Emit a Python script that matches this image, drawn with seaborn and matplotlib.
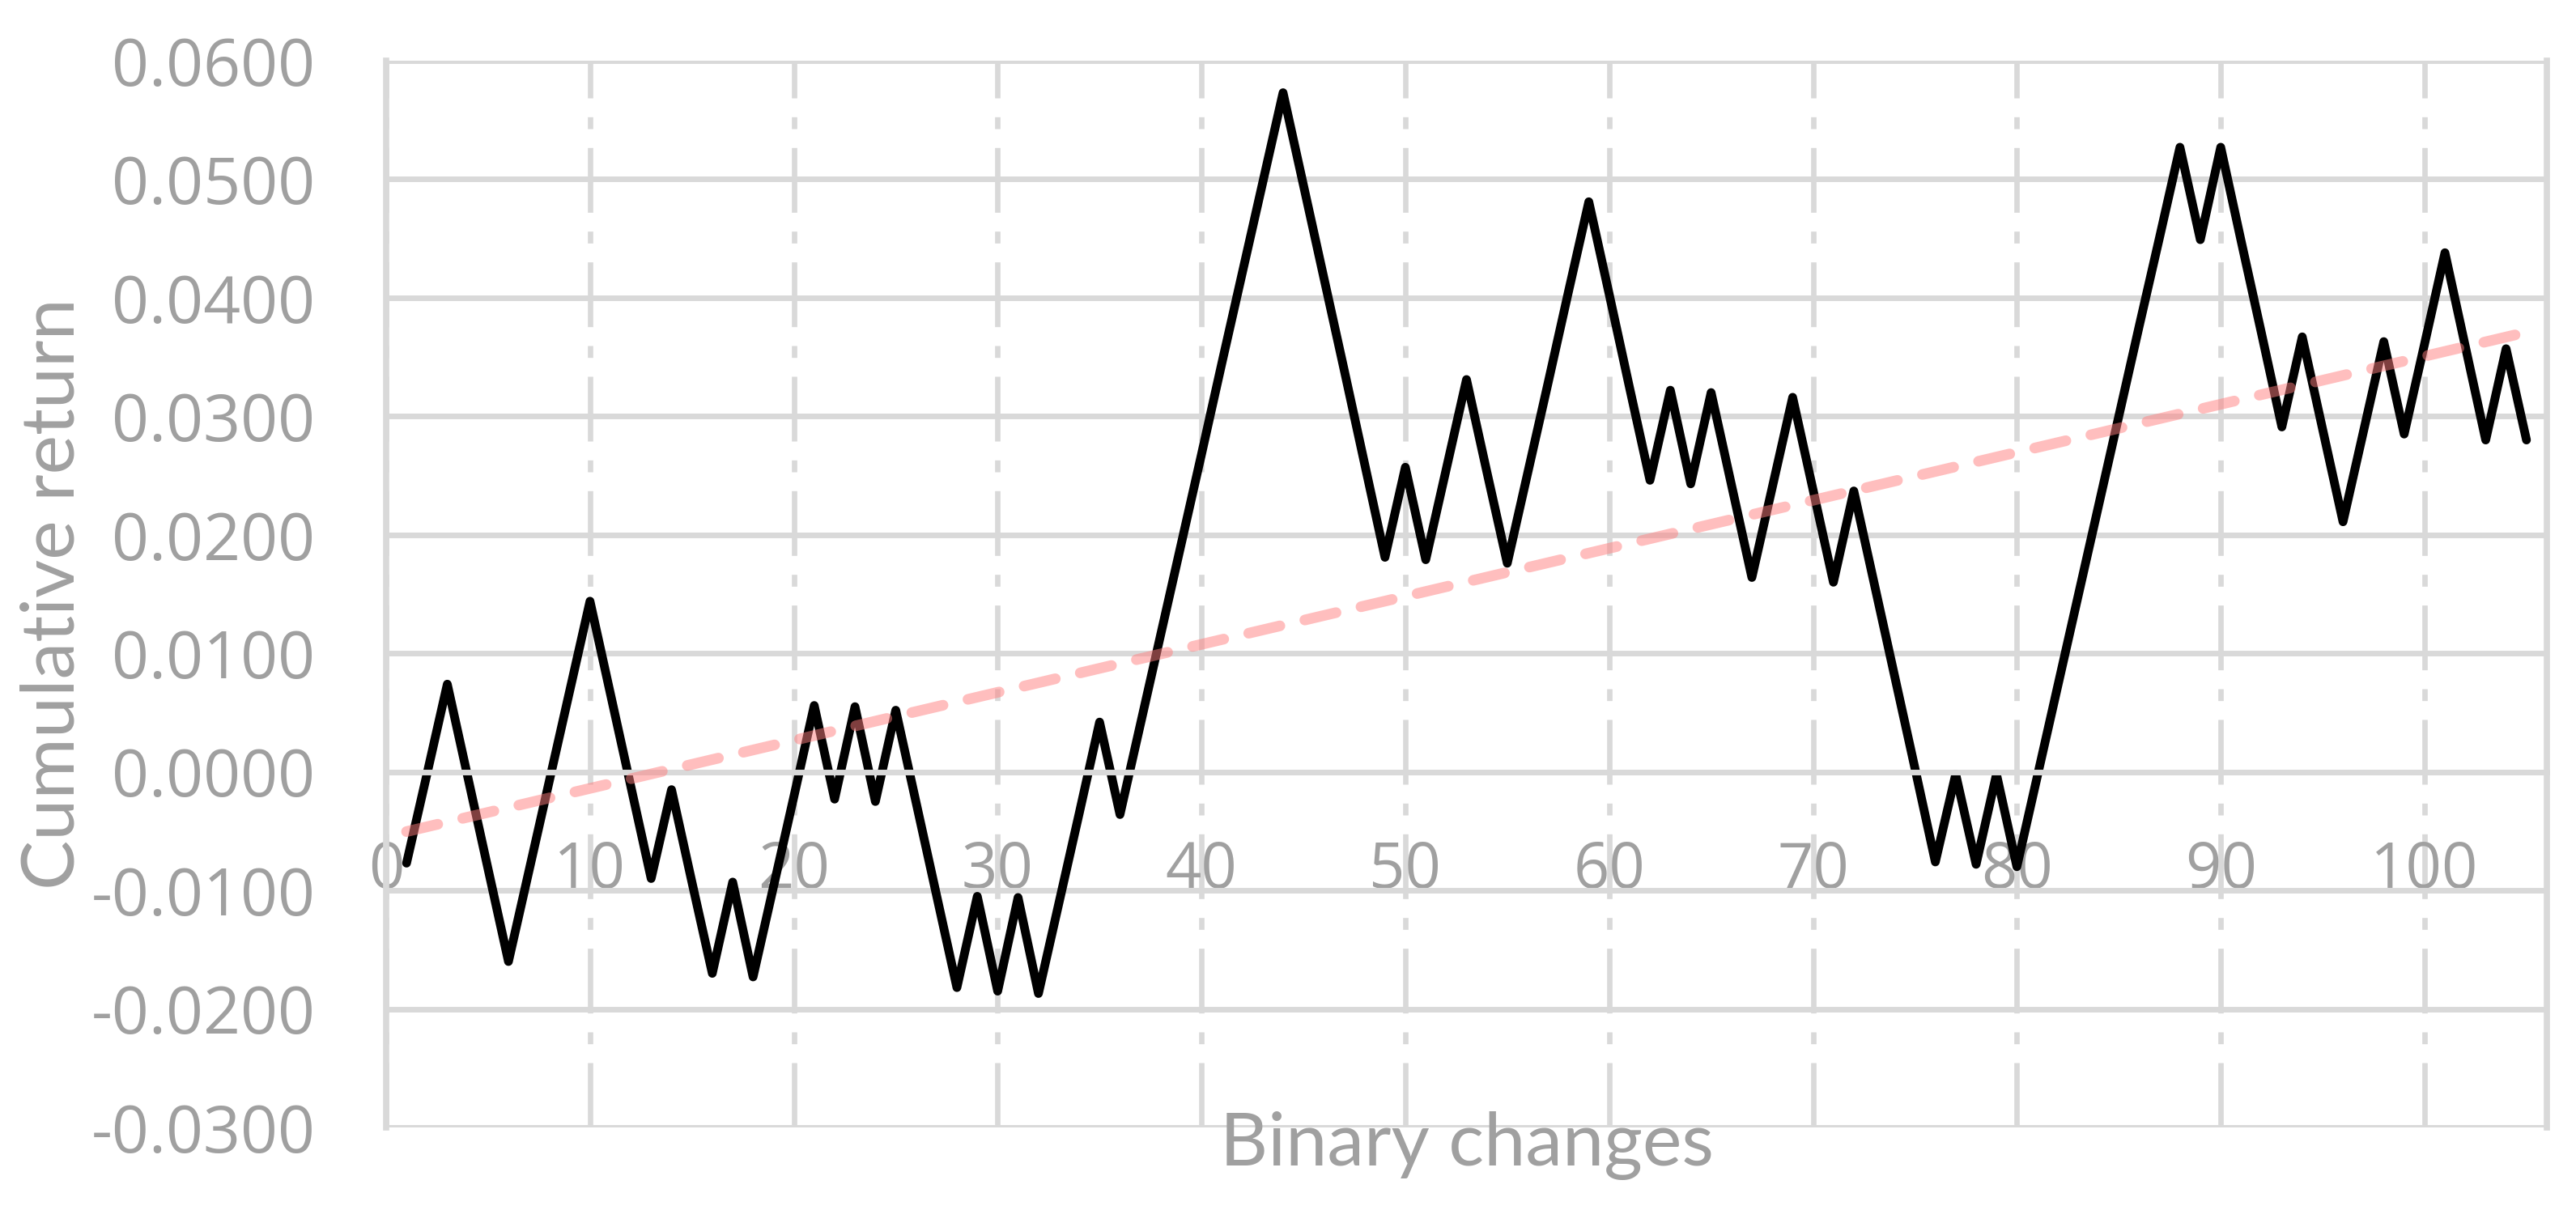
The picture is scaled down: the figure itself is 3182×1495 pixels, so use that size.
import matplotlib
matplotlib.use("Agg")
import matplotlib.pyplot as plt
import seaborn as sns
import numpy as np

# cumulative return after each binary change
steps = list(range(1, 106))
cum_return = [
    -0.0077, -0.0002, 0.0074, -0.0004, -0.0082, -0.0160, -0.0084, -0.0008, 0.0068, 0.0144,
    0.0066, -0.0012, -0.0090, -0.0015, -0.0093, -0.0170, -0.0093, -0.0173, -0.0097, -0.0021,
    0.0056, -0.0023, 0.0055, -0.0025, 0.0052, -0.0026, -0.0104, -0.0182, -0.0105, -0.0185,
    -0.0106, -0.0187, -0.0111, -0.0035, 0.0042, -0.0036, 0.0040, 0.0116, 0.0192, 0.0268,
    0.0345, 0.0421, 0.0497, 0.0573, 0.0495, 0.0417, 0.0339, 0.0260, 0.0181, 0.0257,
    0.0179, 0.0255, 0.0331, 0.0253, 0.0176, 0.0252, 0.0328, 0.0405, 0.0481, 0.0403,
    0.0324, 0.0246, 0.0322, 0.0243, 0.0320, 0.0242, 0.0164, 0.0240, 0.0316, 0.0238,
    0.0160, 0.0237, 0.0159, 0.0081, 0.0003, -0.0076, -0.0002, -0.0078, -0.0002, -0.0080,
    -0.0004, 0.0072, 0.0148, 0.0224, 0.0300, 0.0376, 0.0451, 0.0527, 0.0449, 0.0527,
    0.0448, 0.0370, 0.0291, 0.0367, 0.0289, 0.0211, 0.0287, 0.0363, 0.0285, 0.0361,
    0.0438, 0.0359, 0.0280, 0.0357, 0.0280,
]

x_ticks = list(range(0, 101, 10))
y_ticks = [-0.03, -0.02, -0.01, 0.0, 0.01, 0.02, 0.03, 0.04, 0.05, 0.06]
y_labels = [f"{v:.4f}" for v in y_ticks]

GRID = "#d9d9d9"
TEXT = "#a0a0a0"

sns.set_style("white")
plt.rcParams["font.family"] = ["Open Sans", "DejaVu Sans"]

fig = plt.figure(figsize=(31.82, 14.95), dpi=100)
ax = fig.add_axes([477 / 3182, 1 - 1393 / 1495, (3146 - 477) / 3182, (1393 - 75) / 1495])

sns.lineplot(x=steps, y=cum_return, ax=ax, color="black", linewidth=7.8, zorder=2)
# linear trend line
sns.regplot(x=steps, y=cum_return, ax=ax, scatter=False, ci=None, truncate=True,
            line_kws={"color": "#ff7f7f", "alpha": 0.5, "linewidth": 9.5,
                      "linestyle": (0, (3.0, 2.4)), "dash_capstyle": "round",
                      "zorder": 3})

ax.set_xlim(0, 106)
ax.set_ylim(-0.03, 0.06)
ax.set_xticks(x_ticks)
ax.set_xticklabels([str(t) for t in x_ticks])
ax.set_yticks(y_ticks)
ax.set_yticklabels(y_labels)

ax.set_axisbelow(True)
ax.grid(True, axis="y", color=GRID, linewidth=5, linestyle="-")
ax.grid(True, axis="x", color=GRID, linewidth=4.8, linestyle=(0, (12, 3.5, 2.2, 3.5)))

for side in ["left", "right"]:
    ax.spines[side].set_color(GRID)
    ax.spines[side].set_linewidth(5.5)
ax.spines["top"].set_visible(False)
ax.spines["bottom"].set_position(("data", 0))
ax.spines["bottom"].set_color(GRID)
ax.spines["bottom"].set_linewidth(5)

ax.tick_params(axis="y", length=0, pad=63, labelsize=58, labelcolor=TEXT)
ax.tick_params(axis="x", length=0, pad=60, labelsize=56, labelcolor=TEXT)
ax.set_xlabel("")
ax.set_ylabel("")

fig.text(1812 / 3182, 1 - 1416 / 1495, "Binary changes", ha="center", va="center",
         fontsize=66, color=TEXT, family=["Lato", "DejaVu Sans"])
fig.text(66 / 3182, 1 - 734 / 1495, "Cumulative return", ha="center", va="center",
         rotation=90, fontsize=66, color=TEXT, family=["Lato", "DejaVu Sans"])

fig.savefig("out.png", dpi=100, facecolor="white")
